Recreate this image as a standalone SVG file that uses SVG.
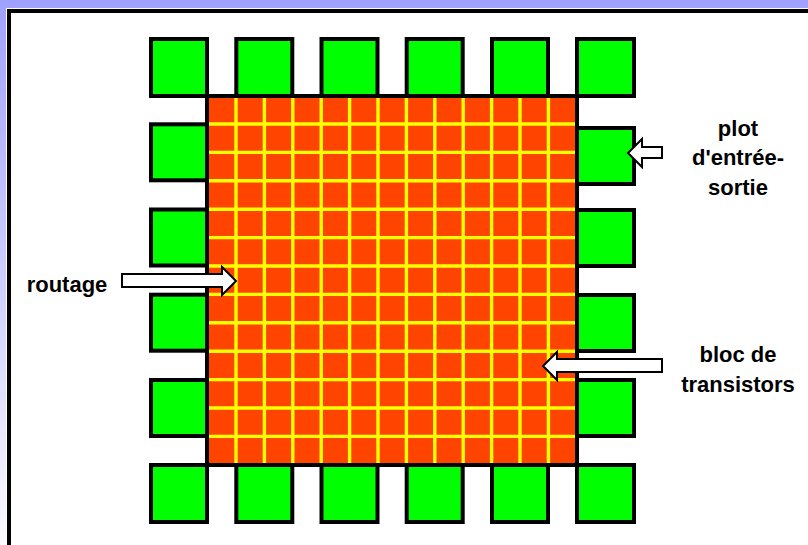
<svg xmlns="http://www.w3.org/2000/svg" width="808" height="545" viewBox="0 0 808 545">
  <defs>
    <linearGradient id="bg" x1="0" y1="0" x2="0" y2="1">
      <stop offset="0" stop-color="#a0a0ff"/>
      <stop offset="1" stop-color="#fafaff"/>
    </linearGradient>
  </defs>
  <style>
    .pad { fill: #00ff00; stroke: #000; stroke-width: 4; }
    .grid line { stroke: #ffff00; stroke-width: 3.4; }
    .arrow { fill: #fff; stroke: #000; stroke-width: 2; stroke-linejoin: miter; }
    text { font-family: "Liberation Sans", Arial, sans-serif; font-size: 22px; font-weight: bold; fill: #000; text-anchor: middle; }
  </style>
  <rect x="0" y="0" width="808" height="545" fill="url(#bg)"/>
  <rect x="6" y="8" width="810" height="545" fill="#fff"/>
  <rect x="9" y="11" width="810" height="545" fill="#fff" stroke="#000" stroke-width="4"/>

  <g id="core">
    <rect x="207" y="96" width="370" height="369" fill="#ff4400" stroke="#000" stroke-width="4"/>
    <g class="grid">
      <line x1="236" y1="98" x2="236" y2="463"/><line x1="264.4" y1="98" x2="264.4" y2="463"/>
      <line x1="292.8" y1="98" x2="292.8" y2="463"/><line x1="321.2" y1="98" x2="321.2" y2="463"/>
      <line x1="349.6" y1="98" x2="349.6" y2="463"/><line x1="378" y1="98" x2="378" y2="463"/>
      <line x1="406.4" y1="98" x2="406.4" y2="463"/><line x1="434.8" y1="98" x2="434.8" y2="463"/>
      <line x1="463.2" y1="98" x2="463.2" y2="463"/><line x1="491.6" y1="98" x2="491.6" y2="463"/>
      <line x1="520" y1="98" x2="520" y2="463"/><line x1="548.4" y1="98" x2="548.4" y2="463"/>
      <line x1="209" y1="124" x2="575" y2="124"/><line x1="209" y1="152.4" x2="575" y2="152.4"/>
      <line x1="209" y1="180.8" x2="575" y2="180.8"/><line x1="209" y1="209.2" x2="575" y2="209.2"/>
      <line x1="209" y1="237.6" x2="575" y2="237.6"/><line x1="209" y1="266" x2="575" y2="266"/>
      <line x1="209" y1="294.4" x2="575" y2="294.4"/><line x1="209" y1="322.8" x2="575" y2="322.8"/>
      <line x1="209" y1="351.2" x2="575" y2="351.2"/><line x1="209" y1="379.6" x2="575" y2="379.6"/>
      <line x1="209" y1="408" x2="575" y2="408"/><line x1="209" y1="436.4" x2="575" y2="436.4"/>
    </g>
  </g>

  <g id="pad-t1"><rect class="pad" x="151" y="39" width="56" height="57"/></g>
  <g id="pad-t2"><rect class="pad" x="236.3" y="39" width="56" height="57"/></g>
  <g id="pad-t3"><rect class="pad" x="321.5" y="39" width="56" height="57"/></g>
  <g id="pad-t4"><rect class="pad" x="406.7" y="39" width="56" height="57"/></g>
  <g id="pad-t5"><rect class="pad" x="492" y="39" width="56" height="57"/></g>
  <g id="pad-t6"><rect class="pad" x="577" y="39" width="57" height="57"/></g>

  <g id="pad-l2"><rect class="pad" x="151" y="124.3" width="56" height="56"/></g>
  <g id="pad-l3"><rect class="pad" x="151" y="209.5" width="56" height="56"/></g>
  <g id="pad-l4"><rect class="pad" x="151" y="294.7" width="56" height="56"/></g>
  <g id="pad-l5"><rect class="pad" x="151" y="380" width="56" height="56"/></g>

  <g id="pad-r2"><rect class="pad" x="577" y="128" width="57" height="56"/></g>
  <g id="pad-r3"><rect class="pad" x="577" y="210" width="57" height="56"/></g>
  <g id="pad-r4"><rect class="pad" x="577" y="295" width="57" height="56"/></g>
  <g id="pad-r5"><rect class="pad" x="577" y="380" width="57" height="56"/></g>

  <g id="pad-b1"><rect class="pad" x="151" y="465" width="56" height="57"/></g>
  <g id="pad-b2"><rect class="pad" x="236.3" y="465" width="56" height="57"/></g>
  <g id="pad-b3"><rect class="pad" x="321.5" y="465" width="56" height="57"/></g>
  <g id="pad-b4"><rect class="pad" x="406.7" y="465" width="56" height="57"/></g>
  <g id="pad-b5"><rect class="pad" x="492" y="465" width="56" height="57"/></g>
  <g id="pad-b6"><rect class="pad" x="577" y="465" width="57" height="57"/></g>

  <g id="connectors">
    <polygon class="arrow" points="122,274 222,274 222,267 236,281 222,295 222,287 122,287"/>
    <polygon class="arrow" points="662,147 642,147 642,139 628,153 642,167 642,158 662,158"/>
    <polygon class="arrow" points="662,359 557,359 557,352 543,366 557,380 557,372 662,372"/>
  </g>

  <g id="label-routage"><text x="67" y="292">routage</text></g>
  <g id="label-plot">
    <text x="738" y="136">plot</text>
    <text x="738" y="165">d'entrée-</text>
    <text x="738" y="195">sortie</text>
  </g>
  <g id="label-bloc">
    <text x="738" y="362">bloc de</text>
    <text x="738" y="392">transistors</text>
  </g>
</svg>
